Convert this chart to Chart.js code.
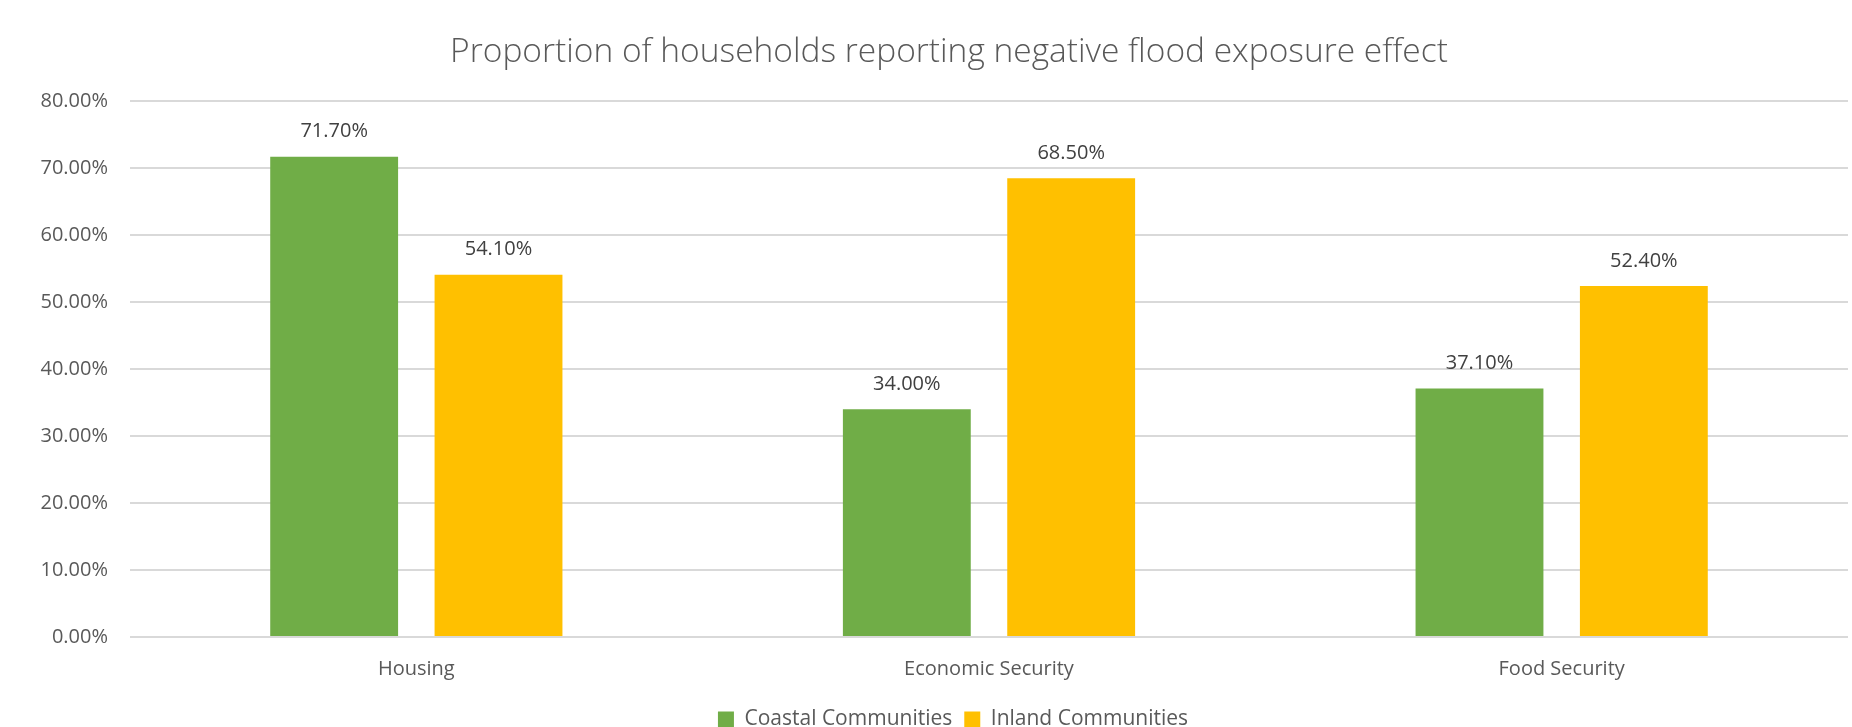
<!DOCTYPE html>
<html lang="en">
<head>
    <meta charset="UTF-8">
    <title>Flood Exposure Effects</title>
    <script src="https://cdn.jsdelivr.net/npm/chart.js"></script>
    <style>
        html, body {
            margin: 0;
            padding: 0;
            background: #ffffff;
        }
        .chart-wrap {
            width: 1852px;
            height: 727px;
        }
    </style>
</head>
<body>

<div class="chart-wrap">
    <canvas id="floodChart"></canvas>
</div>

<script>
    // Chart data
    const categories = ['Housing', 'Economic Security', 'Food Security'];
    const coastalValues = [71.7, 34.0, 37.1];
    const inlandValues = [54.1, 68.5, 52.4];
    const seriesNames = ['Coastal Communities', 'Inland Communities'];
    const yTickMax = 80;
    const yTickStep = 10;

    const textColor = '#595959';
    const fontFamily = "'Open Sans', 'Liberation Sans', sans-serif";

    // Writes the value above each bar
    const valueLabels = {
        id: 'valueLabels',
        afterDatasetsDraw(chart) {
            const ctx = chart.ctx;
            ctx.save();
            ctx.font = '20px ' + fontFamily;
            ctx.fillStyle = '#404040';
            ctx.textAlign = 'center';
            ctx.textBaseline = 'middle';
            chart.data.datasets.forEach((ds, i) => {
                chart.getDatasetMeta(i).data.forEach((bar, j) => {
                    ctx.fillText(ds.data[j].toFixed(2) + '%', bar.x, bar.y - 25);
                });
            });
            ctx.restore();
        }
    };

    // Title and legend are centred a little right of the canvas middle
    const nudgeBlocks = {
        id: 'nudgeBlocks',
        afterLayout(chart) {
            if (chart.titleBlock) {
                chart.titleBlock.left += 20;
                chart.titleBlock.right += 20;
            }
            if (chart.legend) {
                chart.legend.left += 24;
                chart.legend.right += 24;
            }
        }
    };

    const ctx = document.getElementById('floodChart').getContext('2d');
    new Chart(ctx, {
        type: 'bar',
        data: {
            labels: categories,
            datasets: [
                {
                    label: seriesNames[0],
                    data: coastalValues,
                    backgroundColor: '#70ad47',
                    categoryPercentage: 0.574,
                    barPercentage: 0.778
                },
                {
                    label: seriesNames[1],
                    data: inlandValues,
                    backgroundColor: '#ffc000',
                    categoryPercentage: 0.574,
                    barPercentage: 0.778
                }
            ]
        },
        options: {
            responsive: true,
            maintainAspectRatio: false,
            animation: false,
            layout: {
                // legend sits slightly below the default box bottom
                padding: { left: 10, right: 4, top: 0, bottom: -13 }
            },
            plugins: {
                title: {
                    display: true,
                    text: 'Proportion of households reporting negative flood exposure effect',
                    color: textColor,
                    font: { family: fontFamily, size: 33.5, weight: '300' },
                    padding: { top: 32, bottom: 29 }
                },
                legend: {
                    position: 'bottom',
                    labels: {
                        color: textColor,
                        font: { family: fontFamily, size: 21 },
                        boxWidth: 16,
                        boxHeight: 16,
                        padding: 12
                    }
                },
                tooltip: { enabled: false }
            },
            scales: {
                x: {
                    grid: { display: false, drawTicks: false },
                    border: { display: false },
                    ticks: {
                        color: textColor,
                        font: { family: fontFamily, size: 20 },
                        padding: 20
                    },
                    afterFit(scale) {
                        scale.height -= 4;
                    }
                },
                y: {
                    min: 0,
                    max: yTickMax,
                    grid: { color: '#d9d9d9', lineWidth: 2, drawTicks: false },
                    border: { display: false },
                    ticks: {
                        stepSize: yTickStep,
                        color: textColor,
                        font: { family: fontFamily, size: 20 },
                        padding: 22,
                        callback: (v) => v.toFixed(2) + '%'
                    },
                    afterFit(scale) {
                        scale.width = 120;
                    }
                }
            }
        },
        plugins: [valueLabels, nudgeBlocks]
    });
</script>

</body>
</html>
